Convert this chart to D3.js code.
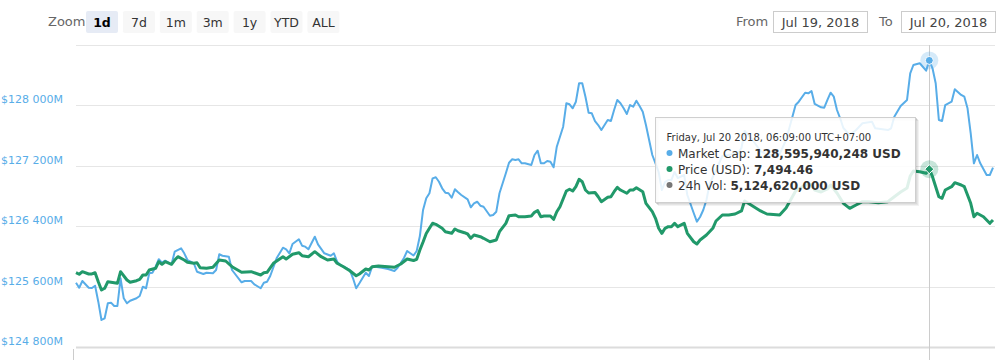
<!DOCTYPE html>
<html><head><meta charset="utf-8">
<script src="https://cdn.jsdelivr.net/npm/d3@7"></script>
<style>
body{margin:0;background:#fff;}
svg{display:block;font-family:"DejaVu Sans","Lucida Grande",sans-serif;}
</style>
</head><body>
<svg id="c" width="1003" height="360"></svg>
<script>
// ---------- data ----------
const startTime = "2018-07-19 07:49";          // chart wall clock, UTC+07:00
const sampleMinutes = 5;                      // one sample every 5 minutes
const zoomButtons = ["1d","7d","1m","3m","1y","YTD","ALL"];
const selectedZoom = "1d";
const rangeFrom = "Jul 19, 2018";
const rangeTo = "Jul 20, 2018";
const capTicks = [124800,125600,126400,127200,128000,128800]; // USD millions
const capDomain = [124800,128800];
const priceDomain = [7200,7700];               // hidden price axis

// Market cap, USD millions
const capSample = [0,1,2,4,5,6,7,8,9,10,11,12,13,14,15,16,17,19,20,21,22,23,24,25,26,27,28,30,31,33,34,35,36,37,38,40,41,43,44,45,46,48,49,52,53,55,56,58,59,60,61,63,65,66,67,68,70,71,72,73,75,76,78,80,81,82,83,86,87,88,89,91,92,93,94,96,98,100,101,103,104,106,107,108,109,110,111,112,113,114,115,116,117,118,119,120,121,123,124,125,126,127,128,130,131,132,133,135,136,137,138,139,140,141,143,144,145,146,147,148,149,150,151,153,154,155,156,157,158,159,160,161,162,163,164,165,167,168,169,170,171,172,173,174,175,176,177,178,179,180,181,182,183,184,185,186,187,188,189,191,192,194,195,196,197,198,199,201,203,205,208,209,210,212,215,217,219,221,223,225,226,227,229,230,231,232,234,235,236,237,238,239,240,241,243,245,247,250,251,255,256,257,259,261,262,263,265,267,268,269,270,271,272,273,275,276,278,279,280,281,282,283,284,286,287,288];
const capValues = [125652,125585,125674,125585,125581,125612,125400,125158,125180,125379,125387,125343,125343,125710,125445,125379,125413,125445,125476,125599,125578,125776,125784,125864,125962,125917,125943,125895,126062,126107,126041,125952,125930,125909,125797,125767,125784,125776,125820,126028,126009,125996,125820,125657,125674,125674,125630,125578,125652,125665,125740,125975,126115,126094,126041,126164,126227,126142,126129,126094,126261,126160,126041,126009,126041,125930,125886,125820,125710,125578,125644,125784,125740,125864,125864,125850,125833,125807,125850,125979,126072,126012,126072,126270,126615,126770,126836,127034,127048,126989,126902,126844,126836,126777,126889,126849,126813,126756,126650,126703,126724,126671,126658,126539,126548,126592,126836,127101,127241,127286,127277,127286,127233,127233,127211,127343,127400,127233,127233,127264,127254,127180,127453,127718,128028,128015,127962,128049,128293,128293,128115,127903,127895,127793,127740,127674,127807,127793,127939,128072,128028,127962,127886,128005,127983,128062,127992,127917,127740,127542,127343,127233,127118,126880,126985,127012,127012,127118,127038,127078,126813,126575,126460,126522,126615,126747,126959,127144,127330,127343,127370,127436,127661,127568,127396,127343,127343,127356,127542,127850,128005,128049,128168,128160,128191,128019,127975,127970,128072,128168,128115,127939,127829,127701,127608,127674,127763,127784,127697,127674,127697,127850,127992,128072,128425,128535,128558,128460,128595.940248,128491,128293,127807,127793,128005,128049,128213,128138,128115,127962,127630,127233,127343,127233,127078,127078,127175];

// Price, USD
const priceSample = [0,1,2,4,5,6,7,8,9,10,12,13,14,16,17,19,20,21,22,23,25,26,27,28,30,31,32,34,35,37,38,39,41,43,45,47,49,52,55,58,59,60,62,65,66,68,70,71,73,75,77,79,81,82,84,86,88,89,91,92,93,95,98,100,102,104,106,107,108,109,110,111,112,113,115,116,118,119,120,122,123,124,125,127,128,130,132,133,135,136,138,139,141,143,144,145,146,147,149,150,151,152,154,155,156,157,158,159,160,161,163,164,165,167,168,169,170,171,173,174,175,176,178,179,181,182,183,184,185,186,187,188,189,191,192,194,195,196,198,200,201,203,205,207,209,210,212,215,217,219,221,223,225,226,227,229,231,232,234,236,237,239,241,243,245,247,249,252,255,257,259,261,262,263,265,267,268,269,270,271,272,273,275,276,278,279,281,282,283,285,287,288];
const priceValues = [7323.0,7320.4,7324.7,7320.9,7320.9,7323.0,7308.1,7294.4,7297.2,7308.1,7306.5,7305.5,7324.7,7310.9,7307.1,7309.8,7312.1,7319.2,7319.2,7327.5,7330.3,7341.2,7336.9,7341.2,7336.9,7344.0,7349.5,7344.0,7340.2,7338.6,7339.6,7331.3,7330.3,7332.0,7344.0,7342.4,7332.9,7323.7,7324.7,7319.2,7323.0,7323.7,7338.6,7349.5,7345.7,7353.5,7356.1,7351.2,7349.5,7357.8,7349.5,7344.0,7345.7,7338.6,7332.9,7326.3,7318.0,7320.9,7329.1,7327.5,7332.9,7334.1,7332.9,7332.0,7337.4,7345.7,7343.2,7345.2,7360.6,7373.8,7387.9,7396.5,7404.8,7403.1,7396.5,7390.9,7388.2,7395.4,7392.5,7389.2,7387.1,7380.0,7385.4,7382.6,7380.0,7374.3,7377.1,7390.9,7404.8,7417.4,7418.5,7415.7,7415.7,7416.9,7423.0,7425.7,7415.7,7416.9,7416.9,7411.4,7424.0,7432.3,7458.3,7461.1,7458.3,7465.4,7477.6,7473.7,7459.9,7455.0,7455.8,7448.8,7440.6,7447.8,7448.8,7457.1,7464.4,7459.9,7454.5,7459.9,7459.9,7463.7,7457.1,7437.9,7424.0,7413.1,7396.5,7388.2,7396.5,7399.2,7399.2,7404.8,7399.2,7404.8,7388.2,7374.3,7370.5,7377.1,7385.4,7396.5,7408.6,7418.5,7418.5,7420.2,7425.2,7441.7,7435.1,7425.2,7420.2,7419.4,7418.5,7430.1,7448.8,7458.3,7461.6,7468.2,7469.0,7459.9,7456.6,7461.6,7468.2,7455.0,7437.9,7429.6,7435.1,7440.6,7440.6,7438.9,7440.6,7448.8,7456.6,7463.2,7483.1,7491.4,7490.2,7487.6,7494.46,7482.0,7465.4,7448.8,7446.2,7459.9,7465.4,7472.0,7468.2,7465.4,7437.9,7415.7,7421.4,7415.7,7404.8,7410.3];

const hoverSample = 268;
const hoverVolume = 5124620000;
const seriesNames = ["Market Cap","Price (USD)","24h Vol"];
const colors = {cap:"#58ade8", price:"#21996a", vol:"#777777"};

// ---------- chart ----------
const svg = d3.select("#c");
const parse = d3.utcParse("%Y-%m-%d %H:%M");
const t0 = parse(startTime);
const tAt = s => new Date(t0.getTime() + s*sampleMinutes*60000);
const plot = {left:76, right:993, top:45, bottom:347};

const x = d3.scaleUtc().domain([t0, tAt(288)]).range([plot.left, plot.right]);
const yCap = d3.scaleLinear().domain(capDomain).range([plot.bottom, plot.top]);
const yPrice = d3.scaleLinear().domain(priceDomain).range([plot.bottom, plot.top]);

const capData = capSample.map((s,i)=>({t:tAt(s), v:capValues[i]}));
const priceData = priceSample.map((s,i)=>({t:tAt(s), v:priceValues[i]}));

// range selector
const zg = svg.append("g");
zg.append("text").attr("x",48).attr("y",26).attr("font-size",13).attr("fill","#666").text("Zoom");
zoomButtons.forEach((b,i)=>{
  const bx = 86 + i*36.9;
  const sel = b===selectedZoom;
  zg.append("rect").attr("x",bx).attr("y",11).attr("width",32).attr("height",22).attr("rx",2)
    .attr("fill", sel ? "#e6ebf5" : "#f7f7f7");
  zg.append("text").attr("x",bx+16).attr("y",26.5).attr("text-anchor","middle")
    .attr("font-size",12.5).attr("font-weight", sel ? "bold":"normal")
    .attr("fill", sel ? "#000" : "#333").text(b);
});
zg.append("text").attr("x",736).attr("y",26).attr("font-size",13).attr("fill","#666").text("From");
zg.append("rect").attr("x",773.5).attr("y",11.5).attr("width",94).attr("height",21).attr("fill","#fff").attr("stroke","#ccc");
zg.append("text").attr("x",820.5).attr("y",26.5).attr("text-anchor","middle").attr("font-size",13).attr("fill","#444").text(rangeFrom);
zg.append("text").attr("x",879).attr("y",26).attr("font-size",13).attr("fill","#666").text("To");
zg.append("rect").attr("x",901.5).attr("y",11.5).attr("width",94).attr("height",21).attr("fill","#fff").attr("stroke","#ccc");
zg.append("text").attr("x",948.5).attr("y",26.5).attr("text-anchor","middle").attr("font-size",13).attr("fill","#444").text(rangeTo);

// grid
const gg = svg.append("g");
capTicks.forEach(v=>{
  const yy = Math.round(yCap(v))+0.5;
  gg.append("line").attr("x1",plot.left).attr("x2",995).attr("y1",yy).attr("y2",yy)
    .attr("stroke", v===capDomain[0] ? "#dcdcdc" : "#e6e6e6").attr("stroke-width", v===capDomain[0] ? 2 : 1);
});
const fmtM = v => "$" + d3.format(",")(v).replace(/,/g," ") + "M";
capTicks.filter(v=>v<capDomain[1]).forEach(v=>{
  gg.append("text").attr("x",1).attr("y",yCap(v)-2).attr("text-anchor","start")
    .attr("font-size",11).attr("fill",colors.cap).text(fmtM(v));
});
gg.append("line").attr("x1",73.5).attr("x2",73.5).attr("y1",349).attr("y2",360).attr("stroke","#ccc");

// series
const line = y => d3.line().x(d=>x(d.t)).y(d=>y(d.v));
svg.append("path").datum(capData).attr("d", line(yCap)).attr("fill","none")
  .attr("stroke",colors.cap).attr("stroke-width",2).attr("stroke-linejoin","round");
svg.append("path").datum(priceData).attr("d", line(yPrice)).attr("fill","none")
  .attr("stroke",colors.price).attr("stroke-width",3).attr("stroke-linejoin","round");

// crosshair + markers
const hx = x(tAt(hoverSample));
const hCap = capValues[capSample.indexOf(hoverSample)];
const hPrice = priceValues[priceSample.indexOf(hoverSample)];
svg.append("line").attr("x1",Math.round(hx)+0.5).attr("x2",Math.round(hx)+0.5).attr("y1",plot.top).attr("y2",360).attr("stroke","#cccccc");
svg.append("circle").attr("cx",hx).attr("cy",yCap(hCap)).attr("r",9).attr("fill",colors.cap).attr("opacity",0.25);
svg.append("circle").attr("cx",hx).attr("cy",yCap(hCap)).attr("r",4).attr("fill",colors.cap).attr("stroke","#fff").attr("stroke-width",1);
svg.append("circle").attr("cx",hx).attr("cy",yPrice(hPrice)).attr("r",9).attr("fill",colors.price).attr("opacity",0.25);
svg.append("path").attr("transform",`translate(${hx},${yPrice(hPrice)})`).attr("d","M0,-4.5L4.5,0L0,4.5L-4.5,0Z")
  .attr("fill",colors.price).attr("stroke","#fff").attr("stroke-width",1);

// tooltip
const tg = svg.append("g").attr("transform","translate(655.5,117.5)");
[3,2,1].forEach((o,i)=>tg.append("rect").attr("x",o).attr("y",o).attr("width",260).attr("height",85)
  .attr("fill","none").attr("stroke","#000").attr("stroke-opacity",0.05*(i+1)).attr("stroke-width",1));
tg.append("rect").attr("width",260).attr("height",85).attr("fill","rgba(255,255,255,0.86)").attr("stroke","#cfcfcf");
const hd = tAt(hoverSample);
tg.append("text").attr("x",11).attr("y",23).attr("font-size",10).attr("fill","#333")
  .text(d3.utcFormat("%A, %b %d %Y, %H:%M:%S")(hd) + " UTC+07:00");
const rows = [
  [seriesNames[0], d3.format(",")(Math.round(hCap*1e6)) + " USD", colors.cap],
  [seriesNames[1], d3.format(",.2f")(hPrice), colors.price],
  [seriesNames[2], d3.format(",")(hoverVolume) + " USD", colors.vol]
];
rows.forEach((r,i)=>{
  const yy = 40 + i*16;
  tg.append("circle").attr("cx",14).attr("cy",yy-4.5).attr("r",3).attr("fill",r[2]);
  const t = tg.append("text").attr("x",22.5).attr("y",yy).attr("font-size",12).attr("fill","#333");
  t.append("tspan").text(r[0] + ": ");
  t.append("tspan").attr("font-weight","bold").text(r[1]);
});
</script>
</body></html>
